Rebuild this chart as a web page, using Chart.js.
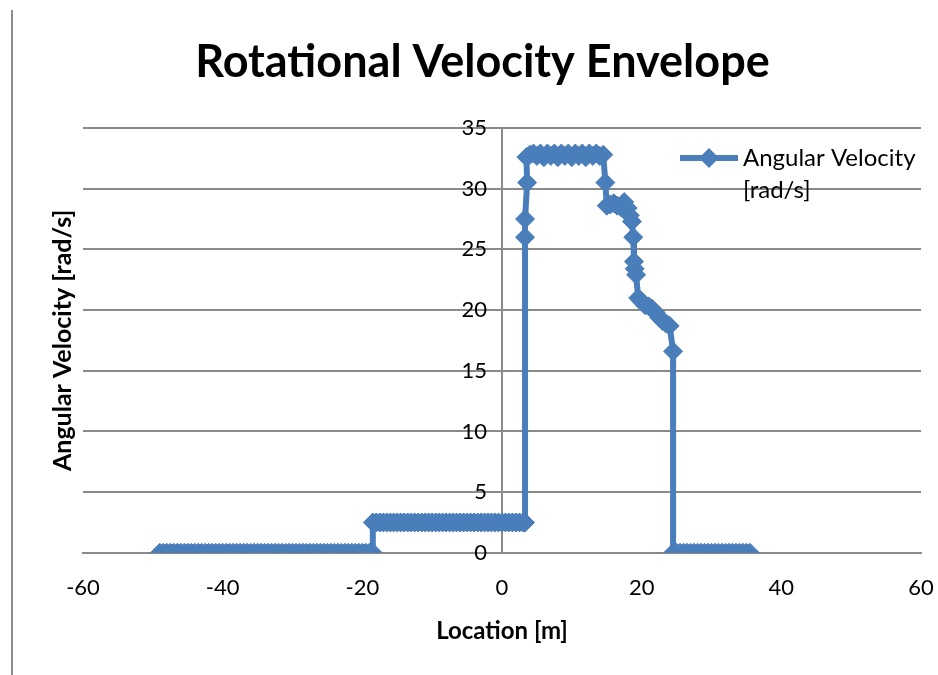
<!DOCTYPE html>
<html>
<head>
<meta charset="utf-8">
<script src="https://cdn.jsdelivr.net/npm/chart.js@4/dist/chart.umd.min.js"></script>
<style>
html, body { margin:0; padding:0; background:#fff; }
#wrap { position:relative; width:938px; height:675px; }
#frame { position:absolute; left:11px; top:10px; width:2px; height:665px; background:#8c8c8c; }
</style>
</head>
<body>
<div id="wrap">
  <canvas id="chart" width="938" height="675"></canvas>
  <div id="frame"></div>
</div>
<script>
// values, one array per stretch of the envelope
const lowLoc = [
  -49,-48.5,-48,-47.5,-47,-46.5,-46,-45.5,-45,-44.5,
  -44,-43.5,-43,-42.5,-42,-41.5,-41,-40.5,-40,-39.5,
  -39,-38.5,-38,-37.5,-37,-36.5,-36,-35.5,-35,-34.5,
  -34,-33.5,-33,-32.5,-32,-31.5,-31,-30.5,-30,-29.5,
  -29,-28.5,-28,-27.5,-27,-26.5,-26,-25.5,-25,-24.5,
  -24,-23.5,-23,-22.5,-22,-21.5,-21,-20.5,-20,-19.5,
  -19,-18.5
];
const lowVel = [
  0,0,0,0,0,0,0,0,0,0,
  0,0,0,0,0,0,0,0,0,0,
  0,0,0,0,0,0,0,0,0,0,
  0,0,0,0,0,0,0,0,0,0,
  0,0,0,0,0,0,0,0,0,0,
  0,0,0,0,0,0,0,0,0,0,
  0,0
];

const stepLoc = [
  -18.5,-18,-17.5,-17,-16.5,-16,-15.5,-15,-14.5,-14,
  -13.5,-13,-12.5,-12,-11.5,-11,-10.5,-10,-9.5,-9,
  -8.5,-8,-7.5,-7,-6.5,-6,-5.5,-5,-4.5,-4,
  -3.5,-3,-2.5,-2,-1.5,-1,-0.5,0,0.5,1,
  1.5,2,2.5,3,3.3
];
const stepVel = [
  2.5,2.5,2.5,2.5,2.5,2.5,2.5,2.5,2.5,2.5,
  2.5,2.5,2.5,2.5,2.5,2.5,2.5,2.5,2.5,2.5,
  2.5,2.5,2.5,2.5,2.5,2.5,2.5,2.5,2.5,2.5,
  2.5,2.5,2.5,2.5,2.5,2.5,2.5,2.5,2.5,2.5,
  2.5,2.5,2.5,2.5,2.5
];

const riseLoc = [3.3, 3.3, 3.6];
const riseVel = [26.0, 27.5, 30.5];

const topLoc = [
  3.5,4,4.5,5,5.5,6,6.5,7,7.5,8,
  8.5,9,9.5,10,10.5,11,11.5,12,12.5,13,
  13.5,14,14.5
];
const topVel = [
  32.6,32.8,32.9,32.7,32.9,32.6,32.9,32.7,32.9,32.6,
  32.9,32.7,32.9,32.6,32.9,32.7,32.9,32.6,32.9,32.7,
  32.9,32.7,32.8
];

const fallLoc = [
  14.8,15.0,15.5,16.0,16.5,17.0,17.5,18.0,18.3,18.6,
  18.8,18.9,19.0,19.2,19.5,20.0,20.5,21.0,21.5,22.0,
  22.5,23.0,23.5,24.0,24.5,24.5
];
const fallVel = [
  30.5,28.6,28.7,28.8,28.6,28.5,28.9,28.4,27.8,27.3,
  26.0,24.0,23.4,22.9,21.0,20.7,20.4,20.3,20.1,19.8,
  19.4,19.1,18.9,18.7,16.6,0
];

const tailLoc = [
  25,25.5,26,26.5,27,27.5,28,28.5,29,29.5,
  30,30.5,31,31.5,32,32.5,33,33.5,34,34.5,
  35,35.5
];
const tailVel = [
  0,0,0,0,0,0,0,0,0,0,
  0,0,0,0,0,0,0,0,0,0,
  0,0
];

const xTicks = [-60, -40, -20, 0, 20, 40, 60];
const yTicks = [0, 5, 10, 15, 20, 25, 30, 35];

const BLUE = '#4a7ebb';
const GRID = '#8a8a8a';
const FONT = 'Lato';

const points = [];
function addStretch(loc, vel) {
  loc.forEach((x, i) => points.push({ x: x, y: vel[i] }));
}
addStretch(lowLoc, lowVel);
addStretch(stepLoc, stepVel);
addStretch(riseLoc, riseVel);
addStretch(topLoc, topVel);
addStretch(fallLoc, fallVel);
addStretch(tailLoc, tailVel);

// y labels sit left of the axis that crosses at x = 0
const yLabels = {
  id: 'yLabels',
  beforeDatasetsDraw(chart) {
    const ctx = chart.ctx;
    const xs = chart.scales.x;
    const ys = chart.scales.y;
    const x0 = xs.getPixelForValue(0);
    ctx.save();
    ctx.fillStyle = '#000';
    ctx.font = '22px ' + FONT;
    ctx.textAlign = 'right';
    ctx.textBaseline = 'middle';
    ys.ticks.forEach(t => {
      ctx.fillText(String(t.value), x0 - 15, ys.getPixelForValue(t.value));
    });
    ctx.restore();
  }
};

// legend sits inside the plot like the Excel one
const legendBox = {
  id: 'legendBox',
  afterDraw(chart) {
    const ctx = chart.ctx;
    ctx.save();
    ctx.strokeStyle = BLUE;
    ctx.lineWidth = 6;
    ctx.beginPath();
    ctx.moveTo(680, 158);
    ctx.lineTo(738, 158);
    ctx.stroke();
    ctx.fillStyle = BLUE;
    ctx.beginPath();
    ctx.moveTo(699, 158);
    ctx.lineTo(709, 148);
    ctx.lineTo(719, 158);
    ctx.lineTo(709, 168);
    ctx.closePath();
    ctx.fill();
    ctx.fillStyle = '#000';
    ctx.font = '24px ' + FONT;
    ctx.textAlign = 'left';
    ctx.textBaseline = 'middle';
    ctx.fillText('Angular Velocity', 743, 158);
    ctx.fillText('[rad/s]', 743, 190);
    ctx.restore();
  }
};

new Chart(document.getElementById('chart'), {
  type: 'scatter',
  data: {
    datasets: [{
      label: 'Angular Velocity [rad/s]',
      data: points,
      xAxisID: 'x',
      yAxisID: 'y',
      showLine: true,
      borderColor: BLUE,
      backgroundColor: BLUE,
      borderWidth: 6,
      pointStyle: 'rectRot',
      pointRadius: 9.5,
      pointBorderWidth: 1,
      pointBackgroundColor: BLUE,
      pointBorderColor: BLUE,
      tension: 0
    }]
  },
  options: {
    responsive: false,
    animation: false,
    layout: { padding: { left: 44, right: 17, top: 0, bottom: 29 } },
    plugins: {
      legend: { display: false },
      tooltip: { enabled: false },
      title: {
        display: true,
        text: 'Rotational Velocity Envelope',
        color: '#000',
        font: { family: FONT, size: 45, weight: 'bold' },
        padding: { top: 35, bottom: 39 }
      }
    },
    scales: {
      x: {
        type: 'linear',
        axis: 'x',
        position: 'bottom',
        min: xTicks[0],
        max: xTicks[xTicks.length - 1],
        afterBuildTicks: s => { s.ticks = xTicks.map(v => ({ value: v })); },
        ticks: { color: '#000', font: { family: FONT, size: 22 }, padding: 2, maxRotation: 0 },
        grid: { display: true, drawOnChartArea: false, color: 'rgba(0,0,0,0)', drawTicks: true, tickLength: 20 },
        border: { color: GRID, width: 2 },
        title: {
          display: true,
          text: 'Location [m]',
          color: '#000',
          font: { family: FONT, size: 24, weight: 'bold' },
          padding: { top: 14, bottom: 0 }
        }
      },
      y: {
        type: 'linear',
        axis: 'y',
        position: { x: 0 },
        min: yTicks[0],
        max: yTicks[yTicks.length - 1],
        afterBuildTicks: s => { s.ticks = yTicks.map(v => ({ value: v })); },
        ticks: { display: false },
        grid: { color: GRID, lineWidth: 2, drawTicks: false },
        border: { color: GRID, width: 2 }
      },
      yTitle: {
        type: 'linear',
        axis: 'y',
        position: 'left',
        min: 0,
        max: 35,
        ticks: { display: false },
        grid: { display: false, drawTicks: false },
        border: { display: false },
        title: {
          display: true,
          text: 'Angular Velocity [rad/s]',
          color: '#000',
          font: { family: FONT, size: 25, weight: 'bold' },
          padding: { top: 4, bottom: 5 }
        }
      }
    }
  },
  plugins: [yLabels, legendBox]
});
</script>
</body>
</html>
